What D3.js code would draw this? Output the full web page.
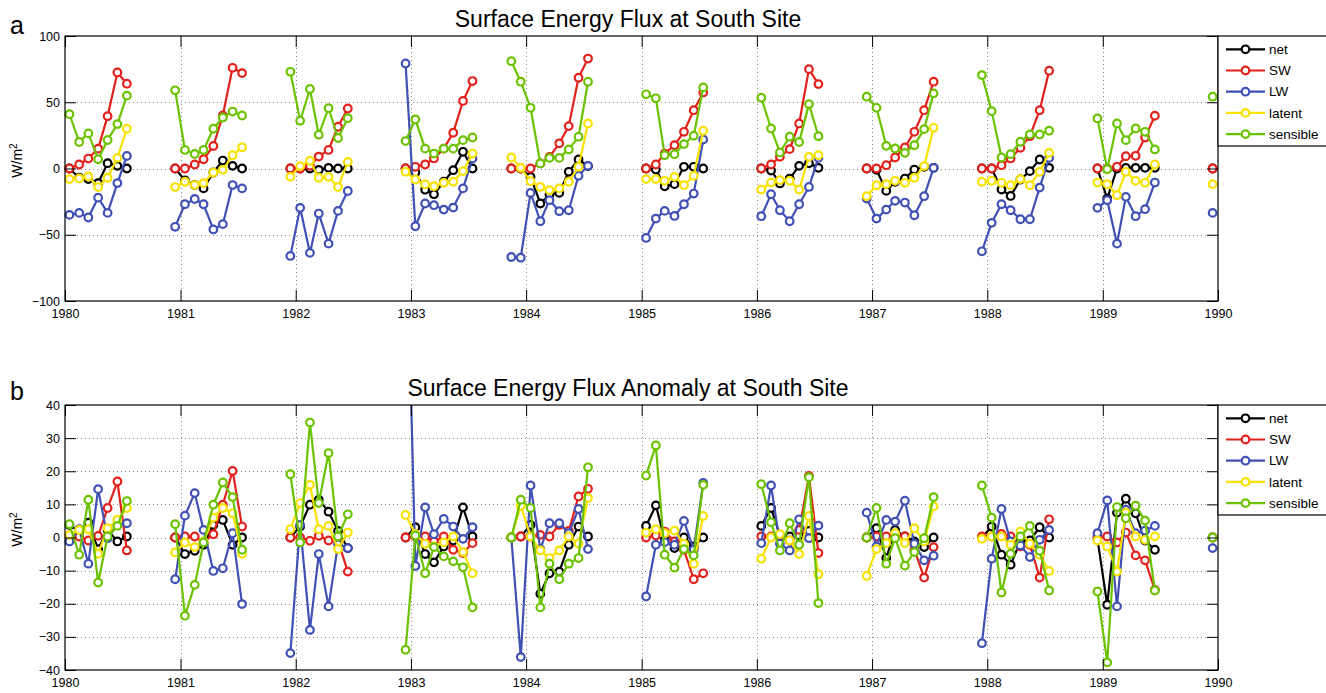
<!DOCTYPE html>
<html>
<head>
<meta charset="utf-8">
<script src="https://cdn.jsdelivr.net/npm/d3@7"></script>
<style>
  body { margin: 0; background: #fff; }
  svg { display: block; }
  text { font-family: "Liberation Sans", Arial, Helvetica, sans-serif; fill: #000; }
</style>
</head>
<body>
<svg id="chart" width="1326" height="693"></svg>
<script>
// First month of each seasonal run of monthly samples (Nov/Dec through Jun/Jul)
const segmentStarts = ["1980-01", "1980-12", "1981-12", "1982-12", "1983-11",
                       "1985-01", "1986-01", "1986-12", "1987-12", "1988-12", "1989-12"];
const seriesNames = ["net", "SW", "LW", "latent", "sensible"];
const yearTicks = [1980, 1981, 1982, 1983, 1984, 1985, 1986, 1987, 1988, 1989, 1990];
const fluxTicks = [-100, -50, 0, 50, 100];
const anomalyTicks = [-40, -30, -20, -10, 0, 10, 20, 30, 40];

// Monthly surface energy flux (W/m^2), one inner array per seasonal run
const fluxNet = [
  [0, -7, -8, -11, 4, 2, 0],
  [0, -9, -12.5, -15, -3, 6, 2, 0],
  [0, 0, 0, -1, 0.5, 0, 0],
  [0, -3, -16, -19.4, -10, -1.3, 12.6, 0],
  [0, 0, -6.3, -26.4, -19.6, -18.4, -2.5, 6.8, 1.8],
  [0, -0.8, -13.4, -11.8, 1.3, 1.3, 0],
  [0, -1.5, -11.3, -7.6, 2, 4, 0.5],
  [0, -1, -16.9, -10, -7.6, -0.8, 1.3, 0.5],
  [0, 0, -15.9, -20.7, -8.3, -2, 6.8, 0.5],
  [0, -22.7, 0, 0.5, 0.5, 0.5, 0.5],
  [0]
];
const fluxSW = [
  [0, 3, 7.5, 15, 39.5, 72.5, 64],
  [0, 0, 3, 7, 17, 40, 76, 72],
  [0, 0, 2, 9, 14, 31.5, 45.3],
  [0, 1.3, 3, 7.6, 15, 27, 51, 66],
  [0, 0, 0, 3.8, 8.8, 19, 32, 68.5, 83],
  [0, 3, 11.3, 17.6, 27.7, 44, 57.4],
  [0, 3, 8.8, 14.6, 34, 75, 63.7],
  [0, 0, 2.5, 8.3, 15.9, 27.7, 44, 65.5],
  [0, 0, 2.5, 7.6, 15.6, 24.4, 44, 73.8],
  [0, 0, 1.3, 9.3, 9.6, 23.4, 39.8],
  [0]
];
const fluxLW = [
  [-35, -33.5, -37, -22, -33.5, -11, 9.5],
  [-44, -27, -23, -27, -46, -42, -12.5, -15],
  [-66, -29.7, -63.7, -34, -56.7, -32, -17],
  [79.3, -43.6, -26.4, -27.7, -31, -29.5, -15, 7.5],
  [-66.8, -67.3, -18.4, -39.8, -23.9, -32.2, -31.5, -5.5, 2],
  [-52.4, -37.8, -32, -35.8, -27, -18.9, 21.9],
  [-36, -19.4, -31.5, -39.8, -27, -13.9, 8],
  [-22.7, -37.8, -31, -24.4, -25.7, -35.3, -20.9, 0.5],
  [-62.5, -41, -27, -31.5, -38.3, -38.3, -14.4, 8],
  [-29.7, -23.9, -56.7, -21.4, -36, -30.7, -10.6],
  [-33.5]
];
const fluxLatent = [
  [-8, -7.5, -6, -14, -7, 8, 30],
  [-14, -10, -12.5, -11, -3, -1, 10, 16],
  [-6.3, 1.8, 5.8, -7, -6.3, -14, 5],
  [-2.5, -8.3, -12, -13.4, -10.8, -10, -2, 11.3],
  [8.3, 0.5, -9.6, -13.9, -16.4, -15, -10, 1.3, 34],
  [-8, -8, -9.3, -6.3, -12.6, -5.5, 28.5],
  [-15.9, -10.6, -8.8, -9.3, -15.9, 8.8, 10],
  [-20.9, -12.6, -11.8, -9.3, -10.8, -7, 1.8, 30.7],
  [-10, -9.3, -10.8, -12.6, -8, -12.6, -2.5, 11.8],
  [-10.6, -11.8, -20.2, -2.5, -9.3, -10.8, 3],
  [-11.8]
];
const fluxSensible = [
  [41, 20, 26.5, 7, 21.5, 33.5, 55],
  [59, 14, 11, 14, 30, 38.5, 43, 40],
  [73, 36, 60, 25.5, 45.5, 23, 38],
  [20.7, 37, 15, 11.3, 15, 15, 21.4, 23.4],
  [81, 65.5, 45.8, 3.8, 8, 8, 14.4, 24, 65.5],
  [56, 53, 10, 10.8, 18.4, 24.7, 61.2],
  [53.4, 30.2, 12.1, 24, 20, 48.6, 24.4],
  [54.2, 45.8, 17.1, 15.1, 11.8, 17.6, 29.7, 56.7],
  [70.5, 43.3, 8.3, 10.8, 20.2, 25.7, 25.7, 28.5],
  [37.8, -0.5, 34, 21.4, 30.2, 27.7, 14.4],
  [54.2]
];

// Departures from each calendar month's mean (W/m^2)
const anomNet = [
  [3.8, 1.8, 4.5, -3.5, 2.3, -1.2, 0.3],
  [0, -5, -4, -2.2, 3.8, 5.3, -2.2, 0],
  [0, 3.3, 9.9, 11.4, 7.8, 2, -3.2],
  [0, 3.1, -5, -7.5, -2.7, -0.9, 9.1, 0.3],
  [0, 0.3, 3.8, -17, -10.8, -10.3, -2.2, 3.3, 0.3],
  [3.5, 9.7, -0.7, -3.2, 0, -2.7, 0],
  [3.5, 8.9, 0.6, 0.3, 0.6, 2, 0],
  [0, 2.8, -6.2, 2.3, 0.3, -1.2, -2.9, 0],
  [0, 3.3, -5.2, -8.2, -1.2, -0.9, 3.1, 0],
  [-0.4, -20.3, 7.5, 11.7, 7.3, -0.9, -3.7],
  [0]
];
const anomSW = [
  [0.3, 0.3, -0.9, 0.5, 8.9, 16.9, -3.9],
  [0, 0.3, 0.3, -1.5, 1, 9.9, 20.1, 3.3],
  [0, 0, -1, 0.5, -0.9, -1, -10.3],
  [0, 0.3, 0.3, -1.2, 0.3, -3.7, -4.7, -1.7],
  [0, 0.3, 0.3, 0.8, 0.3, 3.8, 2, 12.4, 14.7],
  [0, 0.6, 1.8, -1.2, -3.7, -12.6, -10.8],
  [0.3, 0.3, 0.6, -0.9, 2.3, 18.6, -4.7],
  [0, 0.3, 0.3, 1, 0.3, -3.7, -12.1, -2.9],
  [0.3, 0.3, 1.1, 0.3, -2.7, -2.2, -12.1, 5.5],
  [0.3, 0.3, -1.5, 1.5, -5.4, -6.9, -15.8],
  [0]
];
const anomLW = [
  [-1.2, 2.5, -7.9, 14.6, -0.2, 3.8, 4.3],
  [-12.6, 6.6, 13.4, 2.3, -10.1, -9.3, 1.3, -20.1],
  [-34.9, 3.8, -27.9, -5, -20.8, -2, -3.2],
  [108, -8.6, 9.1, 1, 5.6, 3.3, -0.4, 3.1],
  [0, -36.1, 15.7, -3.5, 4.3, 4.3, 1.3, 8.6, -3.5],
  [-17.8, -2.2, -1.4, -2.2, 5, -3.7, 16.5],
  [-1.7, 15.7, -1.9, -3.9, 5.5, -0.2, 3.6],
  [7.5, -2.7, 5.3, 4.8, 11.1, -1.9, -6.9, -5.5],
  [-31.9, -6.4, 8.6, -1.2, -2.4, -5.9, -0.7, 2.3],
  [1.3, 11.2, -20.8, 8.4, 1.3, 2.1, 3.5],
  [-3.2]
];
const anomLatent = [
  [0.8, 2.3, 2.5, -4.9, 2.8, 5.3, 8.9],
  [-4.5, -1.5, -2.9, -1.2, 6, 8.9, 7.3, -4.9],
  [2.5, 10.4, 15.9, 2.5, 3.5, -3.5, 1.5],
  [6.8, 1.1, -1.9, -2.7, -1.5, 0.3, -4.4, -10.8],
  [0, 9.6, 0.3, -3.9, -6.2, -3.9, 0.3, -1.9, 11.9],
  [1.5, 2.5, 1.3, 2.1, -1.9, -7.9, 6.5],
  [-6.4, 0, 1, -0.9, -5, 6.5, -11.1],
  [-11.6, -3.5, -1.7, 1.3, -1.7, 2.8, -1.2, 9.4],
  [-0.4, 0.3, 0.3, -2.2, 1.8, -1.9, -5.2, -10.1],
  [-0.9, -2.7, -10.3, 7.5, 0.3, -0.7, 0.3],
  [0]
];
const anomSensible = [
  [4, -5.2, 11.4, -13.6, 0.3, 3.5, 11],
  [4, -23.6, -14.3, -1.5, 9.9, 16.6, 12.2, -3.7],
  [19.1, -1.5, 34.7, 10.4, 25.5, 0.3, 7],
  [-33.9, 0.6, -10.8, -2.9, -5.7, -7.2, -9, -21.1],
  [0, 11.4, 8.9, -21.1, -7.9, -12.6, -7.9, -6.2, 21.2],
  [18.7, 27.8, -5.2, -9.1, -3.5, -5.4, 15.9],
  [16.1, 4.6, -3.9, 4.3, -2.2, 18.2, -19.8],
  [0, 8.9, -7.9, -0.2, -8.5, -4.4, -0.2, 12.2],
  [15.7, 6, -16.6, -4.9, 0.3, 3.5, -4, -16],
  [-16.3, -37.7, 9.2, 5.8, 9.6, 5.1, -16],
  [0]
];

// Styling
const seriesColors = ["#000000", "#e3211c", "#4150b4", "#f7e200", "#6bc300"];
const plotLeft = 65, plotRight = 1218;
const tickLen = 11;
const markerR = 3.8;

const svg = d3.select("#chart");

const x = d3.scaleUtc()
  .domain([new Date(Date.UTC(1980, 0, 1)), new Date(Date.UTC(1990, 0, 1))])
  .range([plotLeft, plotRight]);
const yearDates = yearTicks.map(yr => new Date(Date.UTC(yr, 0, 1)));

function monthDate(start, k) {
  const [yy, mm] = start.split("-").map(Number);
  return new Date(Date.UTC(yy, mm - 1 + k, 15));
}

const panels = [
  { key: "a", letter: "a", letterY: 34, title: "Surface Energy Flux at South Site",
    top: 36, bottom: 301, domain: [-100, 100], ticks: fluxTicks,
    series: [fluxNet, fluxSW, fluxLW, fluxLatent, fluxSensible] },
  { key: "b", letter: "b", letterY: 400, title: "Surface Energy Flux Anomaly at South Site",
    top: 405, bottom: 670, domain: [-40, 40], ticks: anomalyTicks,
    series: [anomNet, anomSW, anomLW, anomLatent, anomSensible] }
];

panels.forEach(p => {
  const y = d3.scaleLinear().domain(p.domain).range([p.bottom, p.top]);
  const g = svg.append("g");

  // dotted grid
  const grid = g.append("g").attr("stroke", "#8c8c8c").attr("stroke-width", 1)
    .attr("stroke-dasharray", "1,3");
  grid.selectAll("line.vx").data(yearDates.slice(1, -1)).join("line")
    .attr("x1", d => Math.round(x(d)) + 0.5).attr("x2", d => Math.round(x(d)) + 0.5)
    .attr("y1", p.top).attr("y2", p.bottom);
  grid.selectAll("line.hy").data(p.ticks.slice(1, -1)).join("line")
    .attr("x1", plotLeft).attr("x2", plotRight)
    .attr("y1", d => Math.round(y(d)) + 0.5).attr("y2", d => Math.round(y(d)) + 0.5);

  // clip lines to the plotting box
  const clipId = "clip-" + p.key;
  svg.append("clipPath").attr("id", clipId).append("rect")
    .attr("x", plotLeft).attr("y", p.top)
    .attr("width", plotRight - plotLeft).attr("height", p.bottom - p.top);

  const line = d3.line().x(d => x(d.date)).y(d => y(d.value));

  p.series.forEach((vals, si) => {
    const runs = vals.map((run, ri) =>
      run.map((v, k) => ({ date: monthDate(segmentStarts[ri], k), value: v })));
    const sg = g.append("g");
    sg.append("g").attr("clip-path", `url(#${clipId})`)
      .selectAll("path").data(runs).join("path")
      .attr("d", line)
      .attr("fill", "none")
      .attr("stroke", seriesColors[si])
      .attr("stroke-width", 2.2)
      .attr("stroke-linejoin", "round");
    sg.selectAll("circle")
      .data(runs.flat().filter(d => d.value >= p.domain[0] && d.value <= p.domain[1]))
      .join("circle")
      .attr("cx", d => x(d.date)).attr("cy", d => y(d.value))
      .attr("r", markerR)
      .attr("fill", "#fff")
      .attr("stroke", seriesColors[si])
      .attr("stroke-width", 2.2);
  });

  // axes with inward ticks on all four sides
  const axB = d3.axisBottom(x).tickValues(yearDates).tickFormat(d3.utcFormat("%Y"))
    .tickSizeInner(-tickLen).tickSizeOuter(0).tickPadding(8);
  const axT = d3.axisTop(x).tickValues(yearDates).tickFormat("")
    .tickSizeInner(-tickLen).tickSizeOuter(0);
  const axL = d3.axisLeft(y).tickValues(p.ticks)
    .tickSizeInner(-tickLen).tickSizeOuter(0).tickPadding(5);
  const axR = d3.axisRight(y).tickValues(p.ticks).tickFormat("")
    .tickSizeInner(-tickLen).tickSizeOuter(0);

  const axes = [
    g.append("g").attr("transform", `translate(0,${p.bottom})`).call(axB),
    g.append("g").attr("transform", `translate(0,${p.top})`).call(axT),
    g.append("g").attr("transform", `translate(${plotLeft},0)`).call(axL),
    g.append("g").attr("transform", `translate(${plotRight},0)`).call(axR)
  ];
  axes.forEach(a => {
    a.select(".domain").remove();
    a.attr("font-family", null).attr("font-size", null);
    a.selectAll("line").attr("stroke", "#000").attr("stroke-width", 1);
    a.selectAll("text").style("font-size", "12.5px");
  });

  g.append("rect")
    .attr("x", plotLeft).attr("y", p.top)
    .attr("width", plotRight - plotLeft).attr("height", p.bottom - p.top)
    .attr("fill", "none").attr("stroke", "#000").attr("stroke-width", 1.2);

  // title and panel letter
  g.append("text").attr("x", 628).attr("y", p.top - 9.3)
    .attr("text-anchor", "middle").style("font-size", "23px").text(p.title);
  g.append("text").attr("x", 10).attr("y", p.letterY)
    .style("font-size", "25px").text(p.letter);

  // y-axis label with superscript
  const yl = g.append("text")
    .attr("transform", `translate(22,${(p.top + p.bottom) / 2 - 8}) rotate(-90)`)
    .attr("text-anchor", "middle").style("font-size", "14px");
  yl.append("tspan").text("W/m");
  yl.append("tspan").attr("baseline-shift", "super").style("font-size", "10px").text("2");

  // legend
  const lg = g.append("g").attr("transform", `translate(${plotRight},${p.top})`);
  lg.append("rect").attr("x", 0).attr("y", 0).attr("width", 130).attr("height", 110)
    .attr("fill", "#fff").attr("stroke", "#000").attr("stroke-width", 1.2);
  seriesNames.forEach((name, i) => {
    const ry = 13.3 + i * 21.2;
    const row = lg.append("g").attr("transform", `translate(0,${ry})`);
    row.append("line").attr("x1", 8).attr("x2", 47).attr("y1", 0).attr("y2", 0)
      .attr("stroke", seriesColors[i]).attr("stroke-width", 2.2);
    row.append("circle").attr("cx", 27.5).attr("cy", 0).attr("r", markerR)
      .attr("fill", "#fff").attr("stroke", seriesColors[i]).attr("stroke-width", 2.2);
    row.append("text").attr("x", 51).attr("y", 0).attr("dy", "0.35em")
      .style("font-size", "13.5px").text(name);
  });
});
</script>
</body>
</html>
